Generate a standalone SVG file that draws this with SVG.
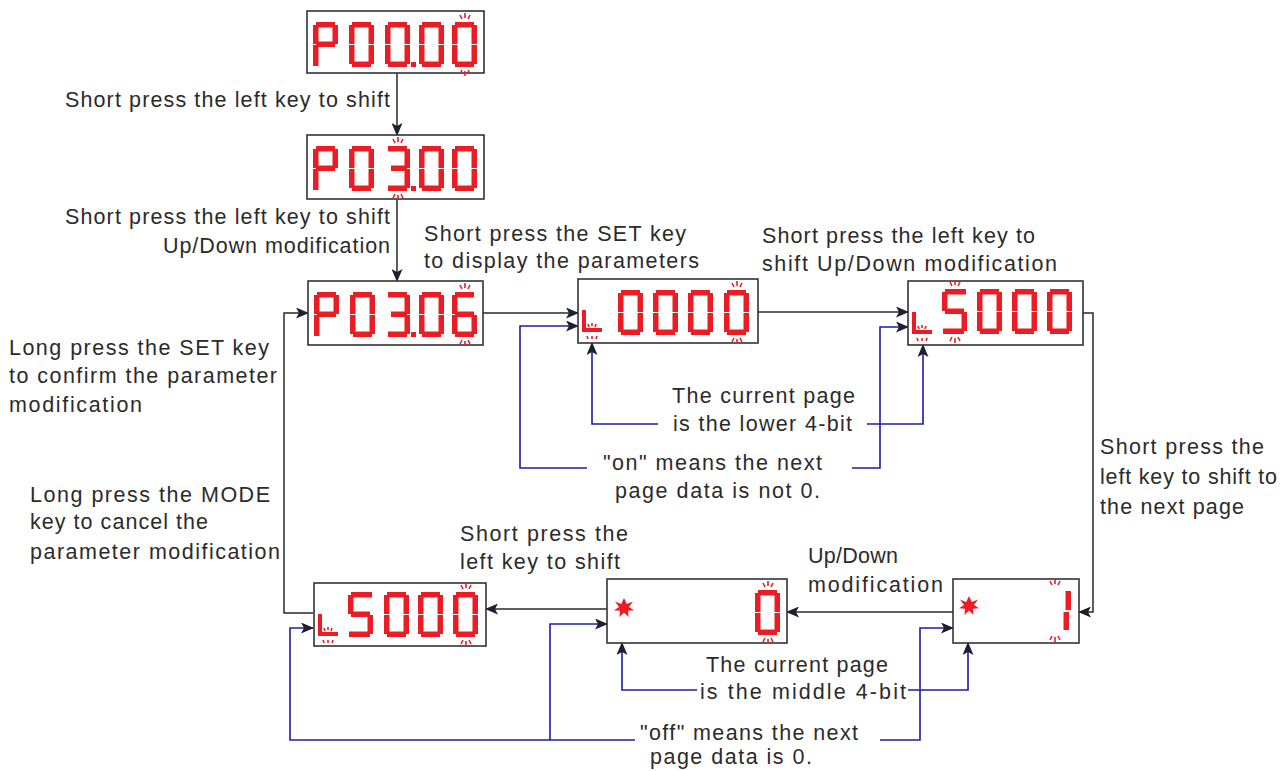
<svg xmlns="http://www.w3.org/2000/svg" xmlns:xlink="http://www.w3.org/1999/xlink" width="1288" height="771" viewBox="0 0 1288 771">
<style>
.box{fill:#fff;stroke:#333;stroke-width:1.6}
.lbl{font-family:"Liberation Sans",Arial,sans-serif;font-size:21.5px;fill:#2b2b2b}
.k{fill:none;stroke:#2a2a2a;stroke-width:1.5}
.b{fill:none;stroke:#1c1ca8;stroke-width:1.6}
.red{fill:#ec1c24}
.ray{stroke:#ec1c24;stroke-width:1.6;fill:none}
</style>
<defs>
<marker id="ah" markerWidth="13" markerHeight="11" refX="12" refY="5.5" orient="auto" markerUnits="userSpaceOnUse">
<path d="M0,0 L13,5.5 L0,11 L3,5.5 Z" fill="#1e2030"/>
</marker>
<g id="g0" class="red"><rect x="3" y="0" width="19" height="5.5"/><rect x="0" y="3" width="5.5" height="19"/><rect x="19.5" y="3" width="5.5" height="19"/><rect x="0" y="23" width="5.5" height="19"/><rect x="19.5" y="23" width="5.5" height="19"/><rect x="3" y="39.5" width="19" height="5.5"/></g>
<g id="gP" class="red"><rect x="3" y="0" width="19" height="5.5"/><rect x="0" y="3" width="5.5" height="19"/><rect x="19.5" y="3" width="5.5" height="19"/><rect x="3" y="19.5" width="19" height="5.5"/><rect x="0" y="23" width="5.5" height="21"/></g>
<g id="g3" class="red"><rect x="3" y="0" width="19" height="5.5"/><rect x="19.5" y="3" width="5.5" height="19"/><rect x="6" y="19.5" width="16" height="5.5"/><rect x="19.5" y="23" width="5.5" height="19"/><rect x="3" y="39.5" width="19" height="5.5"/></g>
<g id="g6" class="red"><rect x="3" y="0" width="19" height="5.5"/><rect x="0" y="3" width="5.5" height="19"/><rect x="3" y="19.5" width="19" height="5.5"/><rect x="0" y="23" width="5.5" height="19"/><rect x="19.5" y="23" width="5.5" height="19"/><rect x="3" y="39.5" width="19" height="5.5"/></g>
<g id="g5" class="red"><rect x="3" y="0" width="21" height="5.5"/><rect x="0" y="3" width="5.5" height="19"/><rect x="3" y="19.5" width="19" height="5.5"/><rect x="19.5" y="23" width="5.5" height="19"/><rect x="1" y="39.5" width="21" height="5.5"/></g>
<g id="g1" class="red"><rect x="19.5" y="3" width="5.5" height="19"/><rect x="17.5" y="24" width="5.5" height="18"/></g>
<rect id="dp" class="red" x="0" y="0" width="5" height="5"/>
<g id="lind"><rect class="red" x="0" y="0" width="4" height="22"/><rect class="red" x="0" y="18" width="20" height="4"/><path class="ray" d="M6,14 l1,3 M10,13 l0,3 M14,14 l-1,3 M5,26 l1,3 M10,26 l0,3 M15,26 l-1,3"/></g>
<path id="rays" class="ray" d="M8,-7 l2,4 M13,-9 l0,5 M18,-7 l-2,4 M8,52 l2,-4 M13,54 l0,-5 M18,52 l-2,-4"/>
<polygon id="star" class="red" points="0,-10 2.8,-4 9,-6.5 5,-1 10,2.2 4,2.8 4.5,9 0,4.5 -4.5,9 -4,2.8 -10,2.2 -5,-1 -9,-6.5 -2.8,-4"/>
</defs>
<rect width="1288" height="771" fill="#fff"/>

<g id="connectors">
<path class="k" d="M397,73 V135" marker-end="url(#ah)"/>
<path class="k" d="M397,199 V281" marker-end="url(#ah)"/>
<path class="k" d="M483,313 H578" marker-end="url(#ah)"/>
<path class="k" d="M758,312 H908" marker-end="url(#ah)"/>
<path class="k" d="M1083,313 H1093 V612 H1079" marker-end="url(#ah)"/>
<path class="k" d="M953,612 H787" marker-end="url(#ah)"/>
<path class="k" d="M607,609 H486" marker-end="url(#ah)"/>
<path class="k" d="M313,613 H284 V313 H308" marker-end="url(#ah)"/>
<path class="b" d="M658,424 H592 V343" marker-end="url(#ah)"/>
<path class="b" d="M867,424 H923 V345" marker-end="url(#ah)"/>
<path class="b" d="M587,468 H520 V326 H578" marker-end="url(#ah)"/>
<path class="b" d="M852,468 H880 V327 H908" marker-end="url(#ah)"/>
<path class="b" d="M697,690 H622 V643" marker-end="url(#ah)"/>
<path class="b" d="M908,690 H968 V643" marker-end="url(#ah)"/>
<path class="b" d="M635,740 H290 V628 H313" marker-end="url(#ah)"/>
<path class="b" d="M550,740 V624 H607" marker-end="url(#ah)"/>
<path class="b" d="M880,740 H920 V628 H953" marker-end="url(#ah)"/>
</g>

<g id="n1">
<rect class="box" x="307" y="11" width="177" height="62"/>
<use href="#gP" x="313" y="22"/><use href="#g0" x="349" y="22"/><use href="#g0" x="385" y="22"/><use href="#dp" x="411" y="62"/><use href="#g0" x="419" y="22"/><use href="#g0" x="452" y="22"/><use href="#rays" x="452" y="22"/>
</g>
<g id="n2">
<rect class="box" x="307" y="135" width="177" height="64"/>
<use href="#gP" x="313" y="146"/><use href="#g0" x="349" y="146"/><use href="#g3" x="385" y="146"/><use href="#dp" x="411" y="186"/><use href="#rays" x="385" y="146"/><use href="#g0" x="419" y="146"/><use href="#g0" x="452" y="146"/>
</g>
<g id="n3">
<rect class="box" x="308" y="281" width="175" height="64"/>
<use href="#gP" x="314" y="292"/><use href="#g0" x="350" y="292"/><use href="#g3" x="385" y="292"/><use href="#dp" x="411" y="332"/><use href="#g0" x="419" y="292"/><use href="#g6" x="452" y="292"/><use href="#rays" x="452" y="292"/>
</g>
<g id="n4">
<rect class="box" x="578" y="279" width="180" height="64"/>
<use href="#lind" x="582" y="310"/>
<use href="#g0" x="618" y="290"/><use href="#g0" x="653" y="290"/><use href="#g0" x="688" y="290"/><use href="#g0" x="724" y="290"/><use href="#rays" x="724" y="290"/>
</g>
<g id="n5">
<rect class="box" x="908" y="281" width="175" height="64"/>
<use href="#lind" x="912" y="312"/>
<use href="#g5" x="942" y="289"/><use href="#rays" x="942" y="289"/><use href="#g0" x="977" y="289"/><use href="#g0" x="1012" y="289"/><use href="#g0" x="1047" y="289"/>
</g>
<g id="n6">
<rect class="box" x="314" y="583" width="172" height="63"/>
<use href="#lind" x="318" y="614"/>
<use href="#g5" x="348" y="592"/><use href="#g0" x="384" y="592"/><use href="#g0" x="418" y="592"/><use href="#g0" x="453" y="592"/><use href="#rays" x="453" y="592"/>
</g>
<g id="n7">
<rect class="box" x="607" y="579" width="180" height="64"/>
<use href="#star" x="624" y="608"/>
<use href="#g0" x="755" y="590"/><use href="#rays" x="755" y="590"/>
</g>
<g id="n8">
<rect class="box" x="953" y="579" width="126" height="64"/>
<use href="#star" x="969" y="606"/>
<use href="#g1" x="1046" y="588"/><use href="#rays" x="1042" y="588"/>
</g>

<g id="labels">
<text class="lbl" x="65" y="107" textLength="325" lengthAdjust="spacing">Short press the left key to shift</text>
<text class="lbl" x="65" y="224" textLength="325" lengthAdjust="spacing">Short press the left key to shift</text>
<text class="lbl" x="163" y="253" textLength="227" lengthAdjust="spacing">Up/Down modification</text>
<text class="lbl" x="424" y="241" textLength="262" lengthAdjust="spacing">Short press the SET key</text>
<text class="lbl" x="424" y="268" textLength="275" lengthAdjust="spacing">to display the parameters</text>
<text class="lbl" x="762" y="243" textLength="273" lengthAdjust="spacing">Short press the left key to</text>
<text class="lbl" x="762" y="271" textLength="295" lengthAdjust="spacing">shift Up/Down  modification</text>
<text class="lbl" x="9" y="355" textLength="260" lengthAdjust="spacing">Long press the SET key</text>
<text class="lbl" x="9" y="383" textLength="268" lengthAdjust="spacing">to confirm the parameter</text>
<text class="lbl" x="9" y="412" textLength="133" lengthAdjust="spacing">modification</text>
<text class="lbl" x="30" y="502" textLength="240" lengthAdjust="spacing">Long press the MODE</text>
<text class="lbl" x="30" y="529" textLength="178" lengthAdjust="spacing">key to cancel the</text>
<text class="lbl" x="30" y="559" textLength="250" lengthAdjust="spacing">parameter modification</text>
<text class="lbl" x="460" y="541" textLength="168" lengthAdjust="spacing">Short press the</text>
<text class="lbl" x="460" y="569" textLength="160" lengthAdjust="spacing">left key to shift</text>
<text class="lbl" x="808" y="563" textLength="90" lengthAdjust="spacing">Up/Down</text>
<text class="lbl" x="808" y="592" textLength="135" lengthAdjust="spacing">modification</text>
<text class="lbl" x="672" y="403" textLength="183" lengthAdjust="spacing">The current page</text>
<text class="lbl" x="673" y="431" textLength="179" lengthAdjust="spacing">is the lower 4-bit</text>
<text class="lbl" x="603" y="470" textLength="219" lengthAdjust="spacing">"on" means the next</text>
<text class="lbl" x="615" y="498" textLength="205" lengthAdjust="spacing">page data is not 0.</text>
<text class="lbl" x="1100" y="454" textLength="164" lengthAdjust="spacing">Short press the</text>
<text class="lbl" x="1100" y="484" textLength="177" lengthAdjust="spacing">left key to shift to</text>
<text class="lbl" x="1100" y="514" textLength="144" lengthAdjust="spacing">the next page</text>
<text class="lbl" x="706" y="672" textLength="182" lengthAdjust="spacing">The current page</text>
<text class="lbl" x="700" y="699" textLength="206" lengthAdjust="spacing">is the middle 4-bit</text>
<text class="lbl" x="640" y="740" textLength="218" lengthAdjust="spacing">"off" means the next</text>
<text class="lbl" x="650" y="764" textLength="162" lengthAdjust="spacing">page data is 0.</text>
</g>
</svg>
